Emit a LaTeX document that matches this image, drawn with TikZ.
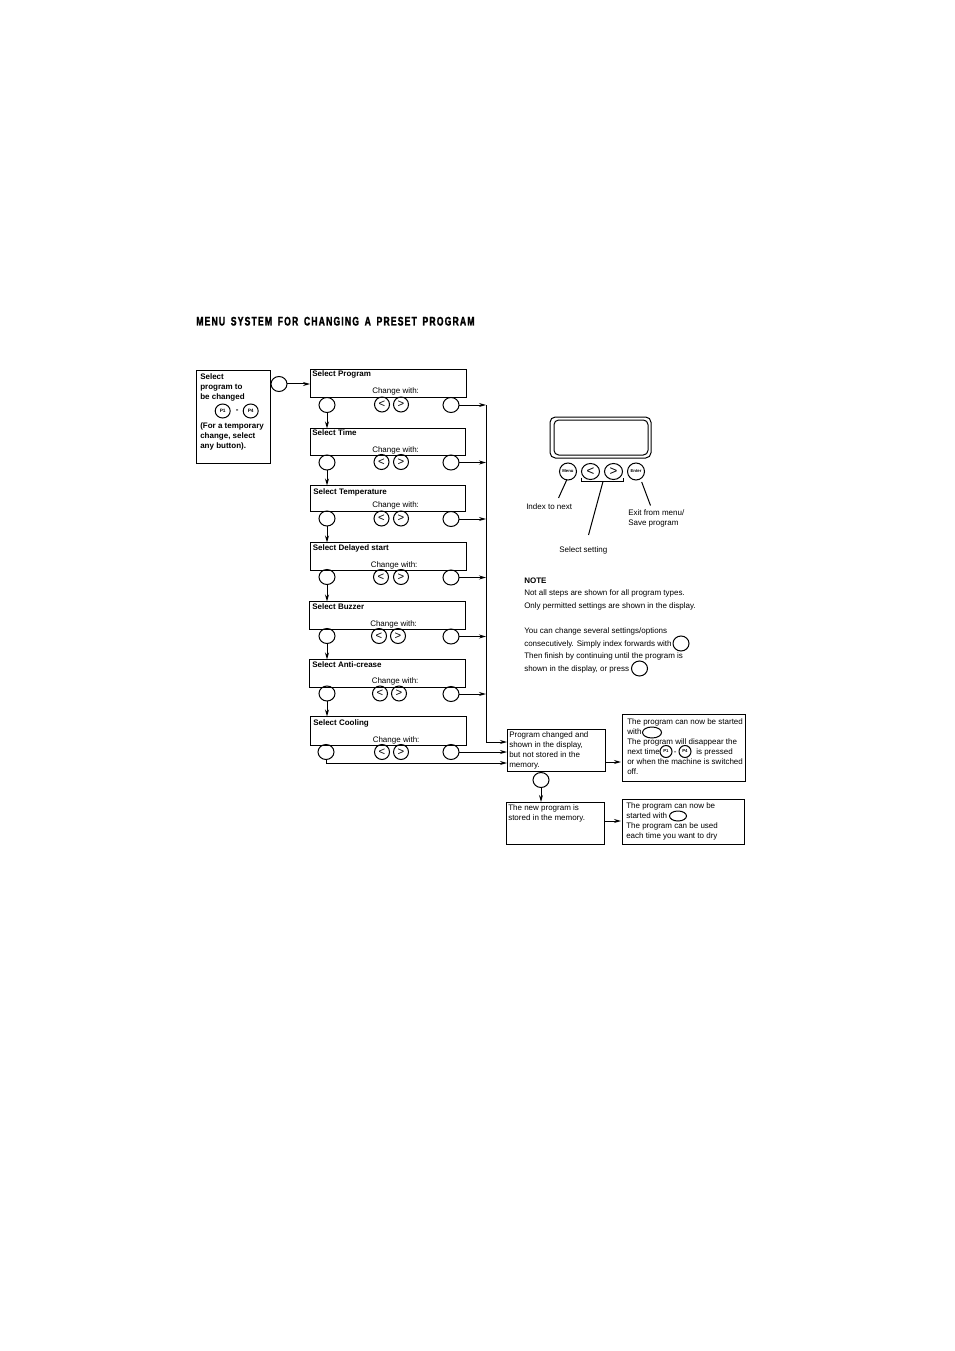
\documentclass[tikz,border=0pt]{standalone}
\usepackage{fontspec}
\setmainfont{Liberation Sans}
\newfontfamily\titlefont[FakeStretch=0.7,LetterSpace=9,WordSpace=1.6,FakeBold=1.5]{Liberation Sans Bold}
\usetikzlibrary{arrows.meta,shapes.geometric}
\def\px{0.75pt}
\tikzset{
	panel/.style={draw, line width=0.75pt, rectangle, inner sep=0pt, outer sep=0pt, anchor=north west},
	btn/.style={draw, line width=0.75pt, ellipse, inner sep=0pt, outer sep=0pt, minimum width=16*\px, minimum height=15*\px},
	arrowbtn/.style={btn, minimum width=15*\px, minimum height=15*\px, font=\fontsize{8.5}{8.5}\selectfont},
	pbtn/.style={btn, minimum width=15*\px, minimum height=14*\px, font=\fontsize{3.6}{3.6}\selectfont\bfseries},
	pbtnsm/.style={btn, minimum width=12*\px, minimum height=12*\px, font=\fontsize{3.2}{3.2}\selectfont\bfseries},
	enter/.style={btn, minimum width=19*\px, minimum height=11*\px},
	txt/.style={inner sep=0pt, anchor=base west, align=left, font=\fontsize{6}{7.5}\selectfont},
	head/.style={txt, font=\fontsize{6}{7.5}\selectfont\bfseries},
	arrow/.style={line width=0.75pt, -{Stealth[length=7*\px, width=4*\px]}},
	link/.style={line width=0.75pt},
}
\begin{document}
\begin{tikzpicture}[x=0.75pt, y=-0.75pt]
	%%%%% START %%%%%
	\useasboundingbox (0, 0) rectangle (954, 1351);

	\node[inner sep=0pt, anchor=base west, font=\titlefont\fontsize{9.3}{10}\selectfont] (title) at (196, 325.5) {MENU SYSTEM FOR CHANGING A PRESET PROGRAM};

	% start box
	\node[panel, minimum width=74*\px, minimum height=93*\px] (start) at (196, 370.5) {};
	\node[head] (starttext) at (200, 379) {Select};
	\node[head] (starttext2) at (200, 389) {program to};
	\node[head] (starttext3) at (200, 399) {be changed};
	\node[pbtn] (pone) at (222.7, 411) {P1};
	\node[head] (pdash) at (235.5, 412.5) {-};
	\node[pbtn] (pfour) at (250.7, 411) {P4};
	\node[head] (starttext4) at (200, 428) {(For a temporary};
	\node[head] (starttext5) at (200, 438) {change, select};
	\node[head] (starttext6) at (200, 448) {any button).};
	\node[btn] (go) at (279, 384) {};

	% menu boxes
	\node[panel, minimum width=156.5*\px, minimum height=28*\px] (program) at (310, 369.5) {};
	\node[panel, minimum width=155.5*\px, minimum height=27*\px] (time) at (310, 428.5) {};
	\node[panel, minimum width=155.5*\px, minimum height=26*\px] (temp) at (310, 485.5) {};
	\node[panel, minimum width=156*\px, minimum height=27.5*\px] (delay) at (310, 542.5) {};
	\node[panel, minimum width=156*\px, minimum height=28*\px] (buzzer) at (309.5, 601.5) {};
	\node[panel, minimum width=156.5*\px, minimum height=27.5*\px] (crease) at (309, 659.5) {};
	\node[panel, minimum width=155.5*\px, minimum height=29*\px] (cooling) at (310.5, 716.5) {};

	\node[head] (programhead) at (312, 377) {Select Program};
	\node[head] (timehead) at (312, 435.5) {Select Time};
	\node[head] (temphead) at (313, 494) {Select Temperature};
	\node[head] (delayhead) at (312.5, 550) {Select Delayed start};
	\node[head] (buzzerhead) at (312, 609) {Select Buzzer};
	\node[head] (creasehead) at (312, 667) {Select Anti-crease};
	\node[head] (coolinghead) at (313, 725) {Select Cooling};

	\node[txt] (programchange) at (372, 393) {Change with:};
	\node[txt] (timechange) at (372, 452.5) {Change with:};
	\node[txt] (tempchange) at (372, 507.5) {Change with:};
	\node[txt] (delaychange) at (370.5, 567) {Change with:};
	\node[txt] (buzzerchange) at (370, 626) {Change with:};
	\node[txt] (creasechange) at (371.5, 683) {Change with:};
	\node[txt] (coolingchange) at (372.5, 742) {Change with:};

	% buttons under the boxes
	\node[btn] (nextprogram) at (327, 405) {};
	\node[arrowbtn] (lessprogram) at (382, 404.5) {<};
	\node[arrowbtn] (moreprogram) at (401, 404.5) {>};
	\node[btn] (exitprogram) at (451, 405) {};

	\node[btn] (nexttime) at (327, 462.5) {};
	\node[arrowbtn] (lesstime) at (381.5, 462) {<};
	\node[arrowbtn] (moretime) at (401, 462) {>};
	\node[btn] (exittime) at (451, 462.5) {};

	\node[btn] (nexttemp) at (327, 518.5) {};
	\node[arrowbtn] (lesstemp) at (381.5, 518.5) {<};
	\node[arrowbtn] (moretemp) at (401, 518.5) {>};
	\node[btn] (exittemp) at (451, 519) {};

	\node[btn] (nextdelay) at (327, 577) {};
	\node[arrowbtn] (lessdelay) at (381, 577) {<};
	\node[arrowbtn] (moredelay) at (401, 577) {>};
	\node[btn] (exitdelay) at (451, 577.5) {};

	\node[btn] (nextbuzzer) at (327, 636) {};
	\node[arrowbtn] (lessbuzzer) at (379, 636) {<};
	\node[arrowbtn] (morebuzzer) at (398, 636) {>};
	\node[btn] (exitbuzzer) at (451, 636.5) {};

	\node[btn] (nextcrease) at (327, 693.5) {};
	\node[arrowbtn] (lesscrease) at (380, 693.5) {<};
	\node[arrowbtn] (morecrease) at (399, 693.5) {>};
	\node[btn] (exitcrease) at (451, 694) {};

	\node[btn] (nextcooling) at (326, 752) {};
	\node[arrowbtn] (lesscooling) at (382, 752) {<};
	\node[arrowbtn] (morecooling) at (401, 752) {>};
	\node[btn] (exitcooling) at (451, 752) {};

	% down the menu
	\draw[arrow] (go.east) -- (program.west |- go.east);
	\draw[arrow] (nextprogram.south) -- (time.north -| nextprogram.south);
	\draw[arrow] (nexttime.south) -- (temp.north -| nexttime.south);
	\draw[arrow] (nexttemp.south) -- (delay.north -| nexttemp.south);
	\draw[arrow] (nextdelay.south) -- (buzzer.north -| nextdelay.south);
	\draw[arrow] (nextbuzzer.south) -- (crease.north -| nextbuzzer.south);
	\draw[arrow] (nextcrease.south) -- (cooling.north -| nextcrease.south);

	% right bus
	\coordinate (busprogram) at (486, 405);
	\coordinate (bustime) at (486, 462.5);
	\coordinate (bustemp) at (486, 519);
	\coordinate (busdelay) at (486, 577.5);
	\coordinate (busbuzzer) at (486, 636.5);
	\coordinate (buscrease) at (486, 694);
	\coordinate (intop) at (507, 742);
	\coordinate (inmid) at (507, 752);
	\coordinate (inlow) at (507, 763);
	\draw[arrow] (exitprogram.east) -- (busprogram);
	\draw[arrow] (exittime.east) -- (bustime);
	\draw[arrow] (exittemp.east) -- (bustemp);
	\draw[arrow] (exitdelay.east) -- (busdelay);
	\draw[arrow] (exitbuzzer.east) -- (busbuzzer);
	\draw[arrow] (exitcrease.east) -- (buscrease);
	\draw[arrow] (busprogram) |- (intop);
	\draw[arrow] (exitcooling.east) -- (inmid);
	\draw[arrow] (nextcooling.south) |- (inlow);

	% result boxes
	\node[panel, minimum width=98*\px, minimum height=42*\px] (changed) at (507.5, 729) {};
	\node[txt] (changedtext) at (509, 767) {Program changed and\\shown in the display,\\but not stored in the\\memory.};
	\node[btn] (store) at (541, 780) {};
	\node[panel, minimum width=98.5*\px, minimum height=42.5*\px] (stored) at (506, 802) {};
	\node[txt] (storedtext) at (508, 820.5) {The new program is\\stored in the memory.};
	\node[panel, minimum width=123*\px, minimum height=66.5*\px] (now) at (622.5, 714.5) {};
	\node[txt] (nowtext) at (627, 774) {The program can now be started\\with\\The program will disappear the\\next time\\or when the machine is switched\\off.};
	\node[enter] (nowenter) at (652, 732.5) {};
	\node[pbtnsm] (nowpone) at (666, 751.5) {P1};
	\node[head, font=\fontsize{6}{7.5}\selectfont] (nowdash) at (673.5, 754) {-};
	\node[pbtnsm] (nowpfour) at (685, 751.5) {P4};
	\node[txt] (nowpress) at (696, 754) {is pressed};
	\node[panel, minimum width=122.5*\px, minimum height=45*\px] (always) at (622, 799.5) {};
	\node[txt] (alwaystext) at (626, 838) {The program can now be\\started with\\The program can be used\\each time you want to dry};
	\node[enter, minimum width=17*\px, minimum height=10*\px] (alwaysenter) at (678, 816) {};

	\coordinate (changedout) at (606, 762);
	\coordinate (nowin) at (621, 762);
	\coordinate (storedout) at (605, 821);
	\coordinate (alwaysin) at (621, 821);
	\draw[arrow] (changedout) -- (nowin);
	\draw[arrow] (storedout) -- (alwaysin);
	\draw[arrow] (store.south) -- (stored.north -| store.south);

	% display
	\node[panel, minimum width=101*\px, minimum height=41*\px, rounded corners=4pt] (screen) at (550, 417) {};
	\node[panel, minimum width=94*\px, minimum height=35*\px, rounded corners=3.5pt] (glass) at (554, 420) {};
	\node[btn, minimum width=17*\px, minimum height=17*\px, font=\fontsize{3.2}{3.2}\selectfont\bfseries] (menukey) at (568, 471.5) {Menu};
	\node[btn, minimum width=18*\px, minimum height=16*\px, font=\fontsize{10}{10}\selectfont] (lesskey) at (590.5, 471.5) {<};
	\node[btn, minimum width=18*\px, minimum height=16*\px, font=\fontsize{10}{10}\selectfont] (morekey) at (613.5, 471.5) {>};
	\node[btn, minimum width=17*\px, minimum height=17*\px, font=\fontsize{3.2}{3.2}\selectfont\bfseries] (enterkey) at (636, 471.5) {Enter};

	\coordinate (bracketa) at (581.5, 477.5);
	\coordinate (bracketb) at (623.5, 477.5);
	\coordinate (bracketmid) at (603, 481.5);
	\coordinate (settingend) at (588.5, 535);
	\coordinate (indexstart) at (566.7, 480);
	\coordinate (indexend) at (558.5, 498);
	\coordinate (exitstart) at (641.7, 482);
	\coordinate (exitend) at (650.5, 505.5);
	\draw[link] (bracketa) |- (bracketb |- bracketmid) -- (bracketb);
	\draw[link] (bracketmid) -- (settingend);
	\draw[link] (indexstart) -- (indexend);
	\draw[link] (exitstart) -- (exitend);

	\node[txt] (indexlabel) at (526, 509) {Index to next};
	\node[txt] (exitlabel) at (628, 525) {Exit from menu/\\Save program};
	\node[txt] (settinglabel) at (559, 552) {Select setting};

	% note
	\node[head] (notehead) at (524, 583) {NOTE};
	\node[txt] (notea) at (524, 595) {Not all steps are shown for all program types.};
	\node[txt] (noteb) at (524, 608) {Only permitted settings are shown in the display.};
	\node[txt] (notec) at (524, 633) {You can change several settings/options};
	\node[txt] (noted) at (524, 646) {consecutively. Simply index forwards with};
	\node[txt] (notee) at (524, 658.5) {Then finish by continuing until the program is};
	\node[txt] (notef) at (524, 671) {shown in the display, or press};
	\node[btn] (notenext) at (681, 643.5) {};
	\node[btn] (noteexit) at (639.5, 668.5) {};

	%%%%% END %%%%%
\end{tikzpicture}
\end{document}
